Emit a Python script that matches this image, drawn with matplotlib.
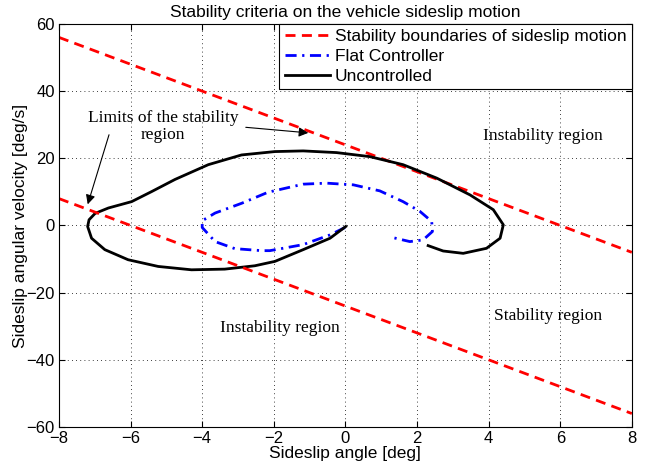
import matplotlib
matplotlib.use('Agg')
import matplotlib.pyplot as plt

# stability boundaries (straight lines)
bound_x = [-8, 8]
upper_y = [56, -8]
lower_y = [8, -56]

# uncontrolled trajectory
unc_x = [0.01, -0.43, -1.18, -1.97, -2.53, -3.37, -4.3, -5.23, -6.07, -6.72, -7.09, -7.2,
         -7.16, -6.99, -6.62, -5.97, -5.41, -4.76, -3.83, -2.9, -1.97, -1.18, -0.25, 0.68,
         1.61, 2.55, 3.48, 4.13, 4.41, 4.32, 3.94, 3.29, 2.73, 2.31]
unc_y = [-0.3, -3.8, -7.2, -10.7, -12.0, -13.0, -13.2, -12.2, -10.2, -7.2, -3.8, -0.3,
         1.7, 3.6, 5.2, 7.1, 10.1, 13.7, 18.1, 21.0, 22.0, 22.2, 21.7, 20.5,
         18.1, 14.1, 9.1, 4.7, 0.2, -3.8, -6.8, -8.3, -7.6, -6.0]

# flat controller trajectory
flat_x = [-0.01, -0.43, -1.18, -2.11, -2.34, -3.09, -3.64, -4.0, -4.0, -3.64, -2.9, -2.16,
          -1.18, -0.53, 0.22, 0.96, 1.61, 2.08, 2.41, 2.43, 2.17, 1.8, 1.32]
flat_y = [-0.6, -2.8, -5.7, -7.5, -7.5, -6.9, -4.8, -0.6, 1.4, 3.7, 6.6, 9.9,
          12.3, 12.6, 12.1, 10.3, 7.1, 4.2, 1.2, -1.8, -4.3, -4.8, -3.6]

xticks = [-8, -6, -4, -2, 0, 2, 4, 6, 8]
yticks = [-60, -40, -20, 0, 20, 40, 60]

plt.rcParams['font.family'] = ['Liberation Sans', 'DejaVu Sans']

fig = plt.figure(figsize=(6.51, 4.67), dpi=100)
ax = fig.add_axes([0.0906, 0.0857, 0.880, 0.863])

lw = 2.0
ax.plot(bound_x, upper_y, color='red', linestyle=(0, (3.6, 2.3)), linewidth=lw,
        label='Stability boundaries of sideslip motion')
ax.plot(flat_x, flat_y, color='blue', linestyle=(0, (4, 2, 0.8, 2)), linewidth=lw,
        label='Flat Controller', solid_joinstyle='round', dash_joinstyle='round')
ax.plot(unc_x, unc_y, color='black', linewidth=lw, label='Uncontrolled',
        solid_joinstyle='round')
ax.plot(bound_x, lower_y, color='red', linestyle=(0, (3.6, 2.3)), linewidth=lw)

ax.set_xlim(-8, 8)
ax.set_ylim(-60, 60)
ax.set_xticks(xticks)
ax.set_yticks(yticks)
ax.tick_params(direction='in', top=True, right=True, labelsize=12, length=4, pad=3)
ax.grid(True, color='black', linestyle=(0, (1, 4)), linewidth=0.6)

ax.set_title('Stability criteria on the vehicle sideslip motion', fontsize=12.5, pad=5)
ax.set_xlabel('Sideslip angle [deg]', fontsize=12.5, labelpad=0)
ax.set_ylabel('Sideslip angular velocity [deg/s]', fontsize=12.5, labelpad=-1)

leg = ax.legend(loc='upper right', fontsize=12.5, borderaxespad=0, fancybox=False,
                framealpha=1, edgecolor='black', handlelength=2.6, handletextpad=0.3,
                borderpad=0.3, labelspacing=0.27)
leg.get_frame().set_linewidth(0.8)

serif = ['Liberation Serif', 'DejaVu Serif']
ax.text(-5.1, 29.5, 'Limits of the stability\nregion', family=serif, fontsize=12.5,
        ha='center', va='center', linespacing=1.05)
ax.annotate('', xy=(-0.96, 27.5), xytext=(-2.86, 29.3),
            arrowprops=dict(arrowstyle='-|>', color='black', lw=0.8, mutation_scale=14))
ax.annotate('', xy=(-7.22, 5.5), xytext=(-6.58, 27.8),
            arrowprops=dict(arrowstyle='-|>', color='black', lw=0.8, mutation_scale=14))
ax.text(5.52, 26.5, 'Instability region', family=serif, fontsize=12.5, ha='center', va='center')
ax.text(-1.83, -30.5, 'Instability region', family=serif, fontsize=12.5, ha='center', va='center')
ax.text(5.66, -27, 'Stability region', family=serif, fontsize=12.5, ha='center', va='center')

fig.savefig('out.png', dpi=100)
